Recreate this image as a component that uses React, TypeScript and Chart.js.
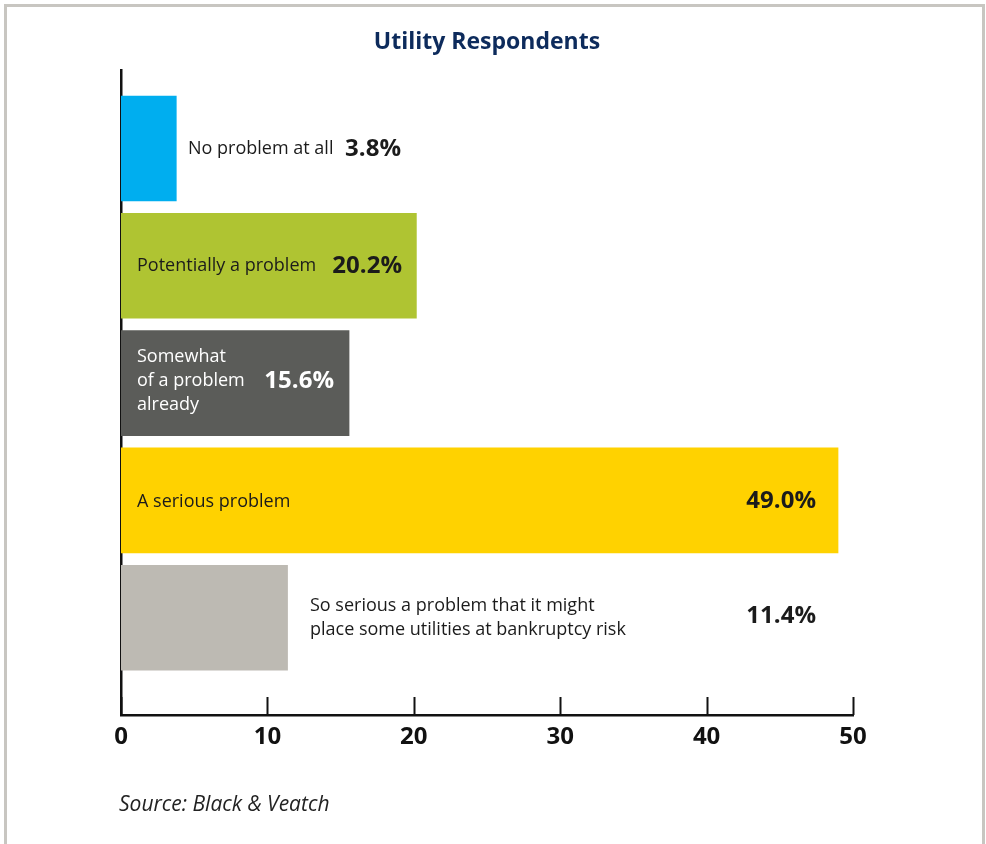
import React, { useEffect, useRef } from "react";
import { Chart, registerables } from "chart.js";

Chart.register(...registerables);

const TITLE = "Utility Respondents";
const SOURCE = "Source: Black & Veatch";

const categories: string[][] = [
  ["No problem at all"],
  ["Potentially a problem"],
  ["Somewhat", "of a problem", "already"],
  ["A serious problem"],
  ["So serious a problem that it might", "place some utilities at bankruptcy risk"],
];
const values = [3.8, 20.2, 15.6, 49.0, 11.4];
const valueLabels = ["3.8%", "20.2%", "15.6%", "49.0%", "11.4%"];
const barColors = ["#00aeef", "#afc432", "#5b5c59", "#ffd200", "#bdbab3"];
const textColors = ["#1b1b1b", "#1b1b1b", "#ffffff", "#1b1b1b", "#1b1b1b"];
const xTicks = [0, 10, 20, 30, 40, 50];

const FONT = "'Open Sans', 'Noto Sans', sans-serif";

// text annotation layout (pixel positions relative to the canvas)
const labelLeft = [188, 137, 137, 137, 310];
const valueRight = [401, 402, 334, 816, 816];
const labelDy = [0, 0, -2, 1, 0];
const valueDy = [1, 0, -2, 1, -2];

const annotPlugin = {
  id: "annot",
  afterDraw(chart: any) {
    const ctx = chart.ctx as CanvasRenderingContext2D;
    const xs = chart.scales.x;
    const ys = chart.scales.y;
    const bottom = chart.chartArea.bottom;
    ctx.save();
    // upward tick marks
    ctx.strokeStyle = "#111111";
    ctx.lineWidth = 2;
    xTicks.forEach((v) => {
      const px = Math.round(xs.getPixelForValue(v)) + 0.5;
      ctx.beginPath();
      ctx.moveTo(px, bottom);
      ctx.lineTo(px, bottom - 18);
      ctx.stroke();
    });
    // bar labels
    values.forEach((_, i) => {
      const cy = ys.getPixelForValue(i) + labelDy[i];
      const lines = categories[i];
      const lh = 24;
      ctx.fillStyle = textColors[i];
      ctx.textBaseline = "middle";
      ctx.textAlign = "left";
      ctx.font = `400 18px ${FONT}`;
      lines.forEach((t, k) => {
        const ly = cy + (k - (lines.length - 1) / 2) * lh;
        ctx.fillText(t, labelLeft[i], ly);
      });
      ctx.textAlign = "right";
      ctx.font = `700 24px ${FONT}`;
      ctx.fillText(valueLabels[i], valueRight[i], ys.getPixelForValue(i) + valueDy[i]);
    });
    // source
    ctx.fillStyle = "#222222";
    ctx.textAlign = "left";
    ctx.textBaseline = "middle";
    ctx.font = `italic 400 21px ${FONT}`;
    ctx.fillText(SOURCE, 119, 805);
    ctx.restore();
  },
};

export default function App() {
  const ref = useRef<HTMLCanvasElement>(null);
  useEffect(() => {
    if (!ref.current) return;
    const chart = new Chart(ref.current, {
      type: "bar",
      data: {
        datasets: [
          {
            data: values.map((v, i) => ({ x: v, y: i })),
            backgroundColor: barColors,
            borderWidth: 0,
            categoryPercentage: 1,
            barPercentage: 0.9,
          },
        ],
      },
      options: {
        indexAxis: "y",
        responsive: false,
        animation: false,
        devicePixelRatio: 1,
        layout: { padding: { left: 121, right: 133, top: 0, bottom: 79 } },
        plugins: {
          legend: { display: false },
          tooltip: { enabled: false },
          title: {
            display: true,
            text: TITLE,
            color: "#0d2b5c",
            font: { family: FONT, size: 23, weight: "bold" },
            padding: { top: 29, bottom: 13.4 },
          },
        },
        scales: {
          x: {
            type: "linear",
            min: 0,
            max: 50,
            afterFit: (s: any) => {
              s.height = 50;
            },
            ticks: {
              stepSize: 10,
              padding: 8,
              color: "#111111",
              font: { family: FONT, size: 24, weight: "bold" },
            },
            grid: { display: false, drawTicks: false },
            border: { display: true, color: "#111111", width: 2.5 },
          },
          y: {
            type: "linear",
            reverse: true,
            offset: false,
            min: -0.67,
            max: 4.83,
            afterFit: (s: any) => {
              s.width = 0;
            },
            afterBuildTicks: (s: any) => {
              s.ticks = values.map((_, i) => ({ value: i }));
            },
            ticks: { display: false },
            grid: { display: false, drawTicks: false },
            border: { display: true, color: "#111111", width: 2.5 },
          },
        },
      },
      plugins: [annotPlugin],
    });
    return () => chart.destroy();
  }, []);

  return (
    <div
      style={{
        position: "absolute",
        left: 0,
        top: 0,
        width: 986,
        height: 844,
        overflow: "hidden",
        background: "#ffffff",
      }}
    >
      <canvas ref={ref} width={986} height={844} style={{ display: "block" }} />
      <div
        style={{
          position: "absolute",
          left: 4,
          top: 4,
          width: 975,
          height: 900,
          borderTop: "3px solid #c8c6c1",
          borderLeft: "3px solid #c8c6c1",
          borderRight: "3px solid #c8c6c1",
          pointerEvents: "none",
        }}
      />
    </div>
  );
}
